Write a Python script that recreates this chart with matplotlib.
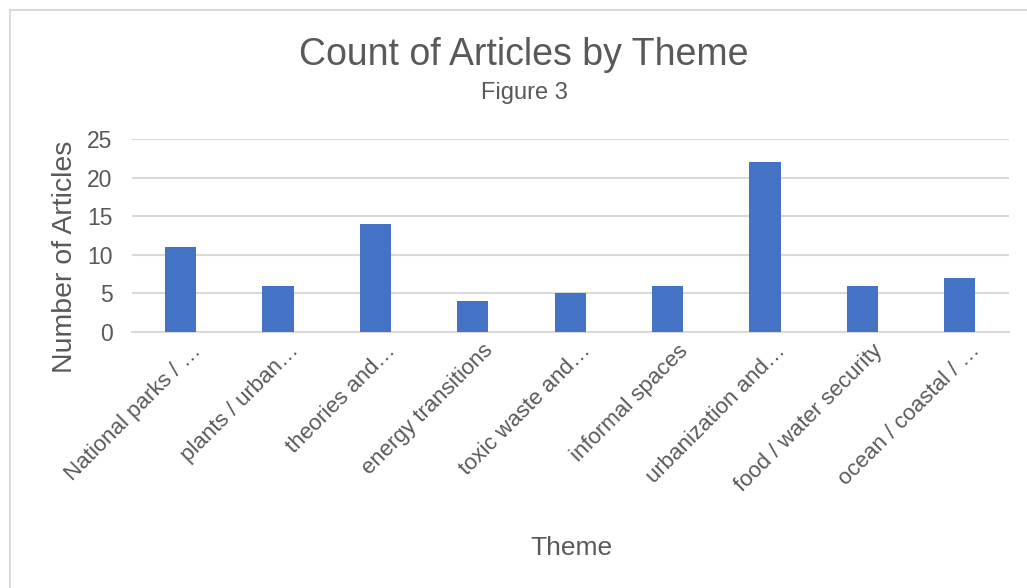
import numpy as np
import matplotlib.pyplot as plt
import matplotlib.transforms as mtransforms
from matplotlib.patches import Rectangle

themes = ["National parks / …", "plants / urban…", "theories and…",
          "energy transitions", "toxic waste and…", "informal spaces",
          "urbanization and…", "food / water security", "ocean / coastal / …"]
counts = [11, 6, 14, 4, 5, 6, 22, 6, 7]
y_ticks = [0, 5, 10, 15, 20, 25]

plt.rcParams['font.family'] = ['Liberation Sans', 'DejaVu Sans']
text_col = '#595959'

fig = plt.figure(figsize=(10.27, 5.88), dpi=100)
ax = fig.add_axes([0.1285, 0.4354, 0.8535, 0.3282])

# chart area frame
fig.patches.append(Rectangle((10 / 1027, -0.1), 1.2, 1.1 - 10 / 588,
                             transform=fig.transFigure, fill=False,
                             edgecolor='#d9d9d9', linewidth=1.5))

x = np.arange(len(themes))
ax.bar(x, counts, width=0.32, color='#4472C4', zorder=3)

ax.set_xlim(-0.5, len(themes) - 0.5)
ax.set_ylim(0, 25)
ax.set_yticks(y_ticks)
ax.yaxis.grid(True, color='#d9d9d9', linewidth=1.5, zorder=0)
ax.set_axisbelow(True)
for s in ['top', 'right', 'left']:
    ax.spines[s].set_visible(False)
ax.spines['bottom'].set_color('#d9d9d9')
ax.spines['bottom'].set_linewidth(1.5)
ax.tick_params(axis='both', length=0, labelsize=16.5, colors=text_col)
ax.tick_params(axis='y', pad=14)
ax.tick_params(axis='x', pad=6)

ax.set_xticks(x)
ax.set_xticklabels(themes, rotation=45, ha='right', rotation_mode='anchor')
shift = mtransforms.ScaledTranslation(10 / 100, 0, fig.dpi_scale_trans)
for lbl in ax.get_xticklabels():
    lbl.set_fontsize(16)
    lbl.set_color(text_col)
    lbl.set_transform(lbl.get_transform() + shift)

fig.text(65 / 1027, 1 - 257 / 588, "Number of Articles", rotation=90,
         ha='center', va='center', fontsize=20.5, color=text_col)
fig.text(571 / 1027, 1 - 548 / 588, "Theme", ha='center', va='center',
         fontsize=19, color=text_col)

fig.text(524 / 1027, 1 - 55 / 588, "Count of Articles by Theme", ha='center',
         va='center', fontsize=27, color=text_col)
fig.text(524 / 1027, 1 - 93 / 588, "Figure 3", ha='center', va='center',
         fontsize=17, color=text_col)

fig.savefig("out.png", dpi=100)
